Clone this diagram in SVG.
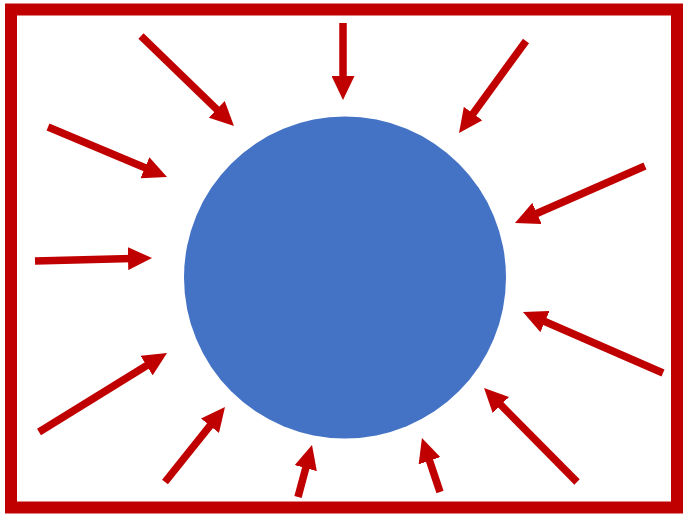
<svg xmlns="http://www.w3.org/2000/svg" width="686" height="514" viewBox="0 0 686 514">
<defs>
<style>
.arr{stroke:#C00000;stroke-width:7.5;fill:none;marker-end:url(#ah)}
</style>
<marker id="ah" markerUnits="userSpaceOnUse" viewBox="0 0 24 23" markerWidth="24" markerHeight="23" refX="4" refY="11.5" orient="auto">
<path d="M0,0 L24,11.5 L0,23 z" fill="#C00000"/>
</marker>
</defs>
<rect width="686" height="514" fill="#ffffff"/>
<g id="frame"><rect x="11" y="9.5" width="666" height="498" fill="none" stroke="#C00000" stroke-width="12"/></g>
<g id="sphere"><circle cx="345" cy="277.5" r="161" fill="#4472C4"/></g>
<g id="connectors">
<line class="arr" x1="343" y1="23" x2="343" y2="80"/>
<line class="arr" x1="141" y1="36" x2="219.6" y2="112.1"/>
<line class="arr" x1="526" y1="41" x2="470.8" y2="116.8"/>
<line class="arr" x1="48" y1="127" x2="148.6" y2="169.3"/>
<line class="arr" x1="35" y1="261" x2="132" y2="258.5"/>
<line class="arr" x1="39" y1="432" x2="150" y2="363.5"/>
<line class="arr" x1="165" y1="482" x2="212.5" y2="422.6"/>
<line class="arr" x1="298" y1="497" x2="306.8" y2="464.3"/>
<line class="arr" x1="440" y1="492" x2="428.3" y2="457"/>
<line class="arr" x1="577" y1="482" x2="498.1" y2="402.2"/>
<line class="arr" x1="663" y1="373" x2="541.3" y2="320"/>
<line class="arr" x1="645" y1="166" x2="533.3" y2="215"/>
</g>
</svg>
